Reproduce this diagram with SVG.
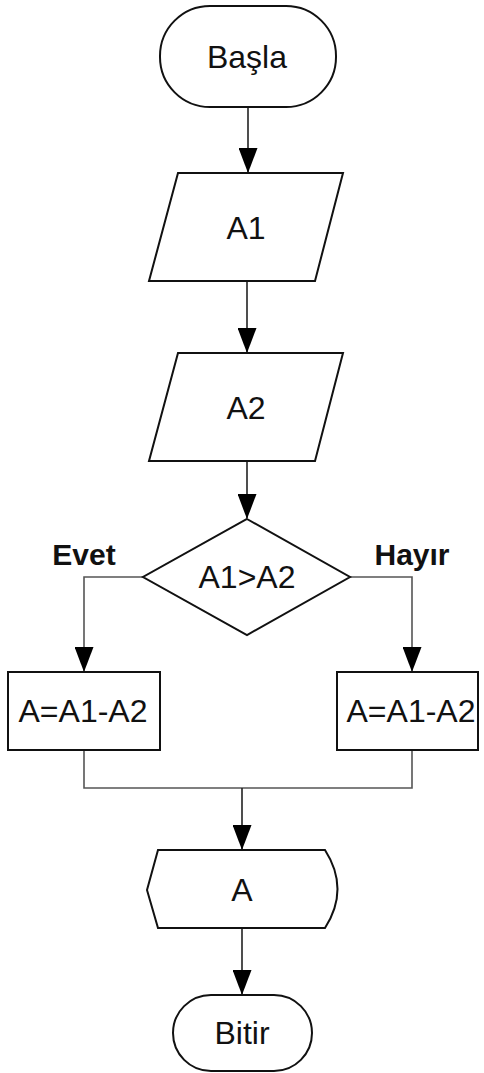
<svg xmlns="http://www.w3.org/2000/svg" width="484" height="1073" viewBox="0 0 484 1073">
<style>
.s{fill:#fff;stroke:#111;stroke-width:2}
.c{fill:none;stroke:#222;stroke-width:1.6}
.c2{fill:none;stroke:#555;stroke-width:1.6}
.t{font-family:"Liberation Sans",Arial,sans-serif;font-size:32px;fill:#111;text-anchor:middle}
.b{font-family:"Liberation Sans",Arial,sans-serif;font-size:30px;font-weight:bold;fill:#111;text-anchor:middle}
</style>
<defs>
<marker id="ah" markerWidth="25" markerHeight="19" refX="24" refY="9.5" orient="auto" markerUnits="userSpaceOnUse" viewBox="0 0 25 19">
<path d="M0,0 L25,9.5 L0,19 Z" fill="#000"/>
</marker>
</defs>
<g id="connectors">
<path class="c" d="M248,107 V172" marker-end="url(#ah)"/>
<path class="c" d="M247,281 V352" marker-end="url(#ah)"/>
<path class="c" d="M247,461 V518" marker-end="url(#ah)"/>
<path class="c2" d="M143,577 H84 V671" marker-end="url(#ah)"/>
<path class="c2" d="M350,577 H412 V671" marker-end="url(#ah)"/>
<path class="c2" d="M84,750 V788 H412 V750"/>
<path class="c" d="M242,788 V849" marker-end="url(#ah)"/>
<path class="c" d="M242,928 V994" marker-end="url(#ah)"/>
</g>
<g id="start">
<rect class="s" x="160" y="6" width="176" height="101" rx="50" ry="50"/>
<text class="t" x="247" y="68">Başla</text>
</g>
<g id="input1">
<path class="s" d="M178,173 H343 L315,281 H149 Z"/>
<text class="t" x="246" y="239">A1</text>
</g>
<g id="input2">
<path class="s" d="M178,353 H343 L315,461 H149 Z"/>
<text class="t" x="246" y="419">A2</text>
</g>
<g id="decision">
<path class="s" d="M247,519 L350,577 L247,635 L143,577 Z"/>
<text class="t" x="247" y="588">A1&gt;A2</text>
</g>
<g id="label-evet"><text class="b" x="84" y="565">Evet</text></g>
<g id="label-hayir"><text class="b" x="412" y="565">Hayır</text></g>
<g id="proc-left">
<rect class="s" x="8" y="672" width="152" height="78"/>
<text class="t" x="83" y="722">A=A1-A2</text>
</g>
<g id="proc-right">
<rect class="s" x="337" y="672" width="141" height="78"/>
<text class="t" x="411" y="722">A=A1-A2</text>
</g>
<g id="display">
<path class="s" d="M158,850 H325 Q350,889 325,928 H158 L147,890 Z"/>
<text class="t" x="242" y="901">A</text>
</g>
<g id="end">
<rect class="s" x="173" y="995" width="139" height="76" rx="38" ry="38"/>
<text class="t" x="242" y="1044">Bitir</text>
</g>
</svg>
